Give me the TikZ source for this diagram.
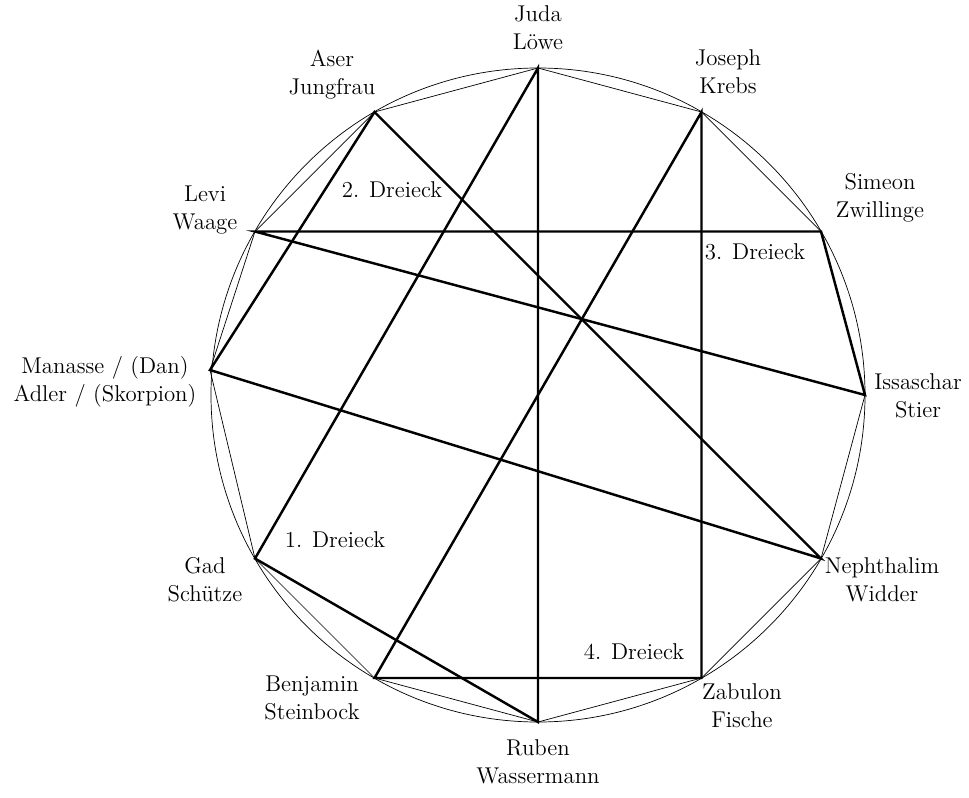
\documentclass[tikz,border=0pt]{standalone}
\usepackage{tikz}
\usetikzlibrary{positioning}
\tikzset{
  tribe/.style={align=center, font=\fontsize{13}{16}\selectfont},
  tri/.style={font=\fontsize{13}{16}\selectfont},
  edge12/.style={thin},
  side/.style={line width=1.4pt, line cap=round}
}
\begin{document}
\begin{tikzpicture}[x=0.02cm, y=-0.02cm]
    \useasboundingbox (0,0) rectangle (969,797);

    % Zodiac points
    \coordinate (juda) at (538,68);
    \coordinate (joseph) at (701.5,112);
    \coordinate (simeon) at (821,231.5);
    \coordinate (issaschar) at (865,395);
    \coordinate (nephthalim) at (821,558.5);
    \coordinate (zabulon) at (701.5,678);
    \coordinate (ruben) at (538,722);
    \coordinate (benjamin) at (374.5,678);
    \coordinate (gad) at (255,558.5);
    \coordinate (manasse) at (210,370);
    \coordinate (levi) at (255,231.5);
    \coordinate (aser) at (374.5,112);

    % Circle and twelve-gon
    \draw[edge12] (538,395) circle (327);
    \draw[edge12] (juda) -- (joseph) -- (simeon) -- (issaschar) -- (nephthalim) -- (zabulon)
        -- (ruben) -- (benjamin) -- (gad) -- (manasse) -- (levi) -- (aser) -- cycle;

    % The four triangles
    \draw[side] (juda) -- (gad) -- (ruben) -- cycle;
    \draw[side] (aser) -- (manasse) -- (nephthalim) -- cycle;
    \draw[side] (levi) -- (simeon) -- (issaschar) -- cycle;
    \draw[side] (joseph) -- (benjamin) -- (zabulon) -- cycle;

    % Labels
    \node[tribe] (lJuda) at (538,28) {Juda\\Löwe};
    \node[tribe] (lJoseph) at (728,72) {Joseph\\Krebs};
    \node[tribe] (lSimeon) at (880,198) {Simeon\\Zwillinge};
    \node[tribe] (lIssaschar) at (918,396) {Issaschar\\Stier};
    \node[tribe] (lNephthalim) at (882,580) {Nephthalim\\Widder};
    \node[tribe] (lZabulon) at (742,706) {Zabulon\\Fische};
    \node[tribe] (lRuben) at (538,762) {Ruben\\Wassermann};
    \node[tribe] (lBenjamin) at (312,698) {Benjamin\\Steinbock};
    \node[tribe] (lGad) at (205,580) {Gad\\Schütze};
    \node[tribe] (lManasse) at (105,382) {Manasse / (Dan)\\Adler / (Skorpion)};
    \node[tribe] (lLevi) at (205,210) {Levi\\Waage};
    \node[tribe] (lAser) at (332,75) {Aser\\Jungfrau};

    \node[tri] (d1) at (335,540) {1. Dreieck};
    \node[tri] (d2) at (392,190) {2. Dreieck};
    \node[tri] (d3) at (755,252) {3. Dreieck};
    \node[tri] (d4) at (634,652) {4. Dreieck};
\end{tikzpicture}
\end{document}
